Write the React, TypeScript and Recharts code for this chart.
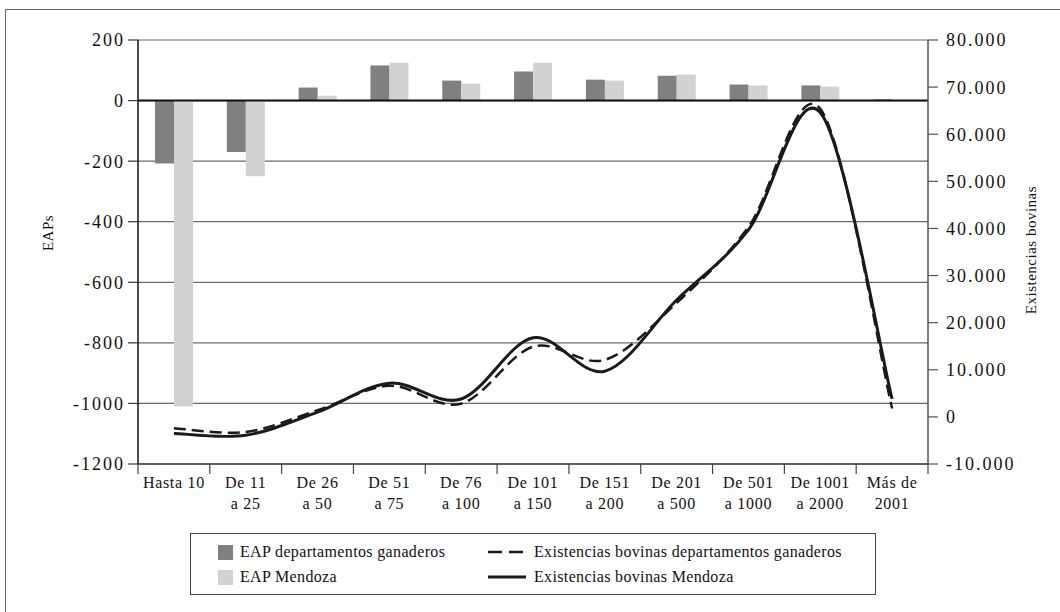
import {
  Bar,
  CartesianGrid,
  ComposedChart,
  Line,
  ReferenceLine,
  XAxis,
  YAxis,
} from "recharts";

const categories = [
  "Hasta 10",
  "De 11\na 25",
  "De 26\na 50",
  "De 51\na 75",
  "De 76\na 100",
  "De 101\na 150",
  "De 151\na 200",
  "De 201\na 500",
  "De 501\na 1000",
  "De 1001\na 2000",
  "Más de\n2001",
];

const eapGanaderos = [-208, -170, 43, 116, 66, 96, 69, 82, 53, 50, 4];
const eapMendoza = [-1010, -250, 16, 125, 56, 125, 66, 86, 50, 46, 3];
const bovinasGanaderos = [-2400, -3200, 1400, 6600, 2800, 14900, 12100, 24200, 40300, 65400, 1800];
const bovinasMendoza = [-3500, -3900, 1000, 7150, 3800, 16800, 9700, 24800, 39700, 64600, 3800];

const leftTicks = [-1200, -1000, -800, -600, -400, -200, 0, 200];
const rightTicks = [-10000, 0, 10000, 20000, 30000, 40000, 50000, 60000, 70000, 80000];

const data = categories.map((cat, i) => ({
  cat,
  eapG: eapGanaderos[i],
  eapM: eapMendoza[i],
  bovG: bovinasGanaderos[i],
  bovM: bovinasMendoza[i],
}));

const FONT = '"Liberation Serif", "DejaVu Serif", serif';
const PLOT_LEFT = 138;
const PLOT_RIGHT = 928;
const BAND = (PLOT_RIGHT - PLOT_LEFT) / categories.length;

// smoothed line like the spreadsheet one (catmull-rom through the points)
const smoothCurve = (context: any) => {
  let pts: number[][] = [];
  return {
    areaStart() {},
    areaEnd() {},
    lineStart() {
      pts = [];
    },
    lineEnd() {
      if (!pts.length) return;
      context.moveTo(pts[0][0], pts[0][1]);
      for (let i = 0; i < pts.length - 1; i++) {
        const p0 = pts[i - 1] || pts[i];
        const p1 = pts[i];
        const p2 = pts[i + 1];
        const p3 = pts[i + 2] || p2;
        context.bezierCurveTo(
          p1[0] + (p2[0] - p0[0]) / 6,
          p1[1] + (p2[1] - p0[1]) / 6,
          p2[0] - (p3[0] - p1[0]) / 6,
          p2[1] - (p3[1] - p1[1]) / 6,
          p2[0],
          p2[1]
        );
      }
    },
    point(x: number, y: number) {
      pts.push([+x, +y]);
    },
  };
};

const fmtThousands = (v: number) => {
  const s = Math.abs(v).toString().replace(/\B(?=(\d{3})+(?!\d))/g, ".");
  return v < 0 ? "-" + s : s;
};

function CategoryTick(props: any) {
  const { x, y, payload, index } = props;
  const lines = String(payload.value).split("\n");
  const last = index === categories.length - 1;
  return (
    <g>
      <line x1={x - BAND / 2} x2={x - BAND / 2} y1={y} y2={y + 10} stroke="#444" strokeWidth={1.2} />
      {last && (
        <line x1={x + BAND / 2} x2={x + BAND / 2} y1={y} y2={y + 10} stroke="#444" strokeWidth={1.2} />
      )}
      {lines.map((l, i) => (
        <text
          key={i}
          x={x}
          y={y + 24 + i * 21}
          textAnchor="middle"
          fontFamily={FONT}
          fontSize={16}
          letterSpacing={0.7}
          fill="#111"
        >
          {l}
        </text>
      ))}
    </g>
  );
}

function LegendBox() {
  const row = { position: "absolute" as const, display: "flex", alignItems: "center", height: 20 };
  const label = {
    fontFamily: FONT,
    fontSize: 16,
    letterSpacing: 0.35,
    color: "#111",
    whiteSpace: "nowrap" as const,
  };
  return (
    <div
      style={{
        position: "absolute",
        left: 190,
        top: 533,
        width: 684,
        height: 60,
        border: "1.5px solid #444",
      }}
    >
      <div style={{ ...row, left: 27, top: 8 }}>
        <span style={{ width: 15, height: 15, background: "#808083", marginRight: 7 }} />
        <span style={label}>EAP departamentos ganaderos</span>
      </div>
      <div style={{ ...row, left: 27, top: 33 }}>
        <span style={{ width: 15, height: 15, background: "#d1d2d4", marginRight: 7 }} />
        <span style={label}>EAP Mendoza</span>
      </div>
      <div style={{ ...row, left: 297, top: 8 }}>
        <svg width={38} height={6} style={{ marginRight: 8 }}>
          <line x1={0} x2={38} y1={3} y2={3} stroke="#1a1a1a" strokeWidth={2.5} strokeDasharray="14 7" />
        </svg>
        <span style={label}>Existencias bovinas departamentos ganaderos</span>
      </div>
      <div style={{ ...row, left: 297, top: 33 }}>
        <svg width={38} height={6} style={{ marginRight: 8 }}>
          <line x1={0} x2={38} y1={3} y2={3} stroke="#1a1a1a" strokeWidth={3} />
        </svg>
        <span style={label}>Existencias bovinas Mendoza</span>
      </div>
    </div>
  );
}

export default function App() {
  return (
    <div style={{ position: "absolute", left: 0, top: 0, width: 1060, height: 612, background: "#fff", overflow: "hidden" }}>
      <div
        style={{
          position: "absolute",
          left: 5,
          top: 9,
          width: 1070,
          height: 620,
          borderLeft: "1.5px solid #666",
          borderTop: "1.5px solid #666",
        }}
      />
      <div style={{ position: "absolute", left: 0, top: 0 }}>
        <ComposedChart
          width={1060}
          height={612}
          data={data}
          margin={{ top: 40, right: 0, bottom: 88, left: 0 }}
          barGap={0}
        >
          <CartesianGrid yAxisId="left" vertical={false} stroke="#6a6a6a" strokeWidth={1.2} />
          <XAxis
            dataKey="cat"
            xAxisId={0}
            height={60}
            interval={0}
            tickLine={false}
            tickSize={0}
            tickMargin={0}
            axisLine={{ stroke: "#444", strokeWidth: 1.5 }}
            tick={<CategoryTick />}
          />
          <YAxis
            yAxisId="left"
            width={138}
            domain={[-1200, 200]}
            ticks={leftTicks}
            tickSize={10}
            tickMargin={3}
            interval={0}
            axisLine={{ stroke: "#111", strokeWidth: 1.5 }}
            tickLine={{ stroke: "#333", strokeWidth: 1.2 }}
            tick={{ fontFamily: FONT, fontSize: 18, letterSpacing: 2, fill: "#111" }}
            label={{
              content: () => (
                <text
                  x={50}
                  y={233}
                  transform="rotate(-90 50 233)"
                  textAnchor="middle"
                  dominantBaseline="middle"
                  fontFamily={FONT}
                  fontSize={15}
                  letterSpacing={0.5}
                  fill="#111"
                >
                  EAPs
                </text>
              ),
            }}
          />
          <YAxis
            yAxisId="right"
            orientation="right"
            width={132}
            domain={[-10000, 80000]}
            ticks={rightTicks}
            tickSize={10}
            tickMargin={8}
            interval={0}
            tickFormatter={fmtThousands}
            axisLine={{ stroke: "#555", strokeWidth: 1.5 }}
            tickLine={{ stroke: "#555", strokeWidth: 1.2 }}
            tick={{ fontFamily: FONT, fontSize: 18, letterSpacing: 2, fill: "#111", textAnchor: "start" }}
            label={{
              content: () => (
                <text
                  x={1033}
                  y={250}
                  transform="rotate(-90 1033 250)"
                  textAnchor="middle"
                  dominantBaseline="middle"
                  fontFamily={FONT}
                  fontSize={15}
                  letterSpacing={0.5}
                  fill="#111"
                >
                  Existencias bovinas
                </text>
              ),
            }}
          />
          <ReferenceLine yAxisId="left" y={0} stroke="#111" strokeWidth={2} />
          <Bar yAxisId="left" dataKey="eapG" fill="#808083" barSize={19} isAnimationActive={false} />
          <Bar yAxisId="left" dataKey="eapM" fill="#d1d2d4" barSize={19} isAnimationActive={false} />
          <Line
            yAxisId="right"
            dataKey="bovG"
            type={smoothCurve as any}
            stroke="#1a1a1a"
            strokeWidth={2.5}
            strokeDasharray="12 6"
            dot={false}
            activeDot={false}
            isAnimationActive={false}
          />
          <Line
            yAxisId="right"
            dataKey="bovM"
            type={smoothCurve as any}
            stroke="#1a1a1a"
            strokeWidth={3}
            dot={false}
            activeDot={false}
            isAnimationActive={false}
          />
        </ComposedChart>
      </div>
      <LegendBox />
    </div>
  );
}
